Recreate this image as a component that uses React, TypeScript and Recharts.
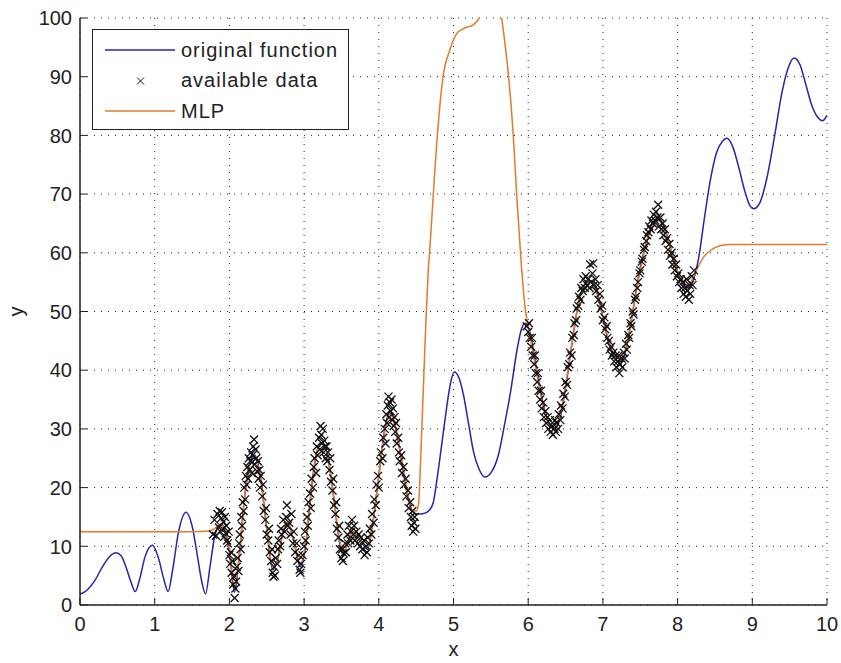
import React from 'react';
import {
  ComposedChart,
  Line,
  Scatter,
  XAxis,
  YAxis,
  CartesianGrid,
  Legend,
} from 'recharts';

// original function
const origX = [
  0.0, 0.1, 0.2, 0.3, 0.4, 0.48, 0.55, 0.62, 0.68, 0.74, 0.8, 0.87, 0.97, 1.05, 1.12, 1.18, 1.24, 1.32,
  1.42, 1.5, 1.57, 1.63, 1.68, 1.74, 1.8, 1.88, 1.95, 2.0, 2.07, 2.13, 2.2, 2.28, 2.34, 2.42, 2.5, 2.58,
  2.64, 2.72, 2.78, 2.85, 2.95, 3.02, 3.1, 3.18, 3.24, 3.32, 3.4, 3.47, 3.52, 3.58, 3.65, 3.72, 3.78,
  3.85, 3.92, 4.0, 4.08, 4.15, 4.22, 4.3, 4.38, 4.45, 4.51, 4.6, 4.68, 4.73, 4.78, 4.82, 4.87, 4.91,
  4.96, 5.01, 5.07, 5.13, 5.2, 5.27, 5.34, 5.42, 5.5, 5.6, 5.68, 5.76, 5.85, 5.91, 5.96, 6.02, 6.1,
  6.18, 6.26, 6.34, 6.42, 6.5, 6.58, 6.66, 6.75, 6.84, 6.92, 7.0, 7.08, 7.16, 7.23, 7.3, 7.4, 7.5, 7.6,
  7.68, 7.75, 7.82, 7.9, 7.98, 8.06, 8.14, 8.2, 8.28, 8.36, 8.44, 8.52, 8.6, 8.66, 8.74, 8.82, 8.9,
  8.97, 9.02, 9.1, 9.2, 9.3, 9.4, 9.48, 9.56, 9.64, 9.72, 9.8, 9.88, 9.94, 10.0,
];
const origY = [
  1.8, 2.6, 4.2, 6.5, 8.3, 8.9, 8.4, 6.3, 4.0, 2.3, 4.5, 8.2, 10.2, 8.0, 4.5, 2.3, 6.0, 12.5,
  15.8, 13.5, 8.5, 4.0, 1.9, 6.5, 11.5, 13.8, 12.5, 9.0, 2.2, 8.0, 18.0, 24.5, 25.5, 21.5, 13.0, 6.0,
  7.5, 12.5, 13.8, 11.5, 6.5, 10.0, 20.0, 26.5, 27.5, 25.0, 18.0, 11.0, 8.5, 10.5, 12.5, 11.5, 10.5,
  9.5, 14.0, 22.0, 30.0, 33.0, 30.5, 25.0, 19.0, 16.0, 15.5, 15.6, 16.2, 17.5, 21.5, 25.2, 30.0, 33.8,
  37.8, 39.7, 38.8, 36.0, 31.0, 26.0, 23.2, 21.8, 22.5, 25.5, 30.5, 36.0, 43.4, 47.0, 48.0, 46.5, 41.0,
  35.5, 31.5, 30.0, 31.5, 37.0, 44.0, 50.5, 54.5, 55.3, 53.5, 49.0, 44.5, 42.0, 41.5, 43.0, 50.0, 57.5, 62.5,
  65.0, 65.8, 64.5, 61.0, 57.5, 55.0, 54.0, 55.0, 59.0, 66.0, 72.5, 77.0, 79.0, 79.5, 78.0, 74.5, 70.5,
  68.0, 67.5, 68.5, 73.0, 80.0, 87.5, 91.5, 93.2, 92.0, 88.5, 85.0, 83.0, 82.5, 83.4,
];

// MLP output
const mlpX = [
  0.0, 0.5, 1.0, 1.5, 1.72, 1.8, 1.88, 1.95, 2.0, 2.07, 2.13, 2.2, 2.28, 2.34, 2.42, 2.5, 2.58, 2.64,
  2.72, 2.78, 2.85, 2.95, 3.02, 3.1, 3.18, 3.24, 3.32, 3.4, 3.47, 3.52, 3.58, 3.65, 3.72, 3.78, 3.85,
  3.92, 4.0, 4.08, 4.15, 4.22, 4.3, 4.38, 4.45, 4.5, 4.53, 4.57, 4.62, 4.66, 4.69, 4.73, 4.79, 4.86,
  4.95, 5.04, 5.15, 5.26, 5.33, 5.4, 5.5, 5.58, 5.64, 5.69, 5.73, 5.8, 5.85, 5.91, 5.96, 6.0, 6.1, 6.18,
  6.26, 6.34, 6.42, 6.5, 6.58, 6.66, 6.75, 6.84, 6.92, 7.0, 7.08, 7.16, 7.23, 7.3, 7.4, 7.5, 7.6, 7.68,
  7.75, 7.82, 7.9, 7.98, 8.06, 8.14, 8.2, 8.27, 8.35, 8.45, 8.57, 8.7, 9.0, 9.5, 10.0,
];
const mlpY = [
  12.5, 12.5, 12.5, 12.5, 12.6, 13.0, 13.8, 12.8, 9.5, 3.0, 8.5, 18.0, 24.0, 25.0, 21.0, 13.0, 6.5, 7.5,
  12.5, 14.0, 11.5, 7.0, 10.5, 20.0, 26.5, 27.5, 25.0, 18.0, 11.5, 9.0, 10.5, 12.5, 11.5, 10.5, 10.0,
  14.0, 22.0, 29.5, 32.5, 30.5, 25.0, 19.0, 16.0, 16.0, 17.0, 28.0, 45.0, 56.5, 62.0, 70.0, 81.0, 90.0,
  94.5, 97.3, 98.3, 98.8, 99.7, 101.5, 103.0, 102.5, 100.3, 95.5, 91.0, 80.0, 69.0, 57.6, 50.5, 47.5, 40.5, 35.0,
  31.5, 30.5, 32.0, 37.5, 44.0, 50.5, 54.5, 55.0, 53.0, 49.0, 45.0, 42.5, 42.0, 43.5, 50.0, 57.0, 62.5, 65.0,
  65.5, 64.0, 61.0, 57.5, 55.5, 54.5, 55.5, 57.5, 59.3, 60.5, 61.2, 61.4, 61.4, 61.4, 61.4,
];

// available (noisy) samples
const sampleX = [
  1.78, 1.8, 1.82, 1.84, 1.86, 1.87, 1.88, 1.89, 1.9, 1.91, 1.92, 1.93, 1.94, 1.95, 1.96, 1.97, 1.98, 1.99,
  2.0, 2.01, 2.02, 2.03, 2.04, 2.05, 2.06, 2.07, 2.08, 2.09, 2.1, 2.11, 2.12, 2.13, 2.14, 2.15, 2.16, 2.17,
  2.18, 2.19, 2.2, 2.21, 2.22, 2.23, 2.24, 2.25, 2.26, 2.27, 2.28, 2.29, 2.3, 2.31, 2.32, 2.33, 2.34, 2.35,
  2.36, 2.37, 2.38, 2.39, 2.4, 2.41, 2.42, 2.44, 2.45, 2.46, 2.48, 2.49, 2.5, 2.52, 2.53, 2.54, 2.56, 2.57,
  2.58, 2.59, 2.6, 2.61, 2.62, 2.64, 2.65, 2.66, 2.68, 2.69, 2.7, 2.72, 2.74, 2.76, 2.77, 2.78, 2.8, 2.82,
  2.83, 2.85, 2.86, 2.88, 2.9, 2.91, 2.93, 2.94, 2.95, 2.96, 2.98, 3.0, 3.01, 3.02, 3.04, 3.05, 3.06, 3.08,
  3.09, 3.1, 3.12, 3.13, 3.14, 3.16, 3.17, 3.18, 3.2, 3.21, 3.22, 3.23, 3.24, 3.25, 3.26, 3.27, 3.28, 3.29,
  3.3, 3.31, 3.32, 3.34, 3.35, 3.36, 3.38, 3.39, 3.4, 3.42, 3.43, 3.44, 3.46, 3.47, 3.48, 3.5, 3.51, 3.52,
  3.53, 3.55, 3.56, 3.58, 3.59, 3.6, 3.62, 3.63, 3.64, 3.66, 3.67, 3.68, 3.7, 3.72, 3.73, 3.75, 3.76, 3.78,
  3.8, 3.81, 3.83, 3.84, 3.85, 3.87, 3.88, 3.9, 3.91, 3.93, 3.94, 3.96, 3.97, 3.99, 4.0, 4.02, 4.03, 4.05,
  4.06, 4.08, 4.09, 4.1, 4.11, 4.12, 4.13, 4.14, 4.15, 4.16, 4.17, 4.18, 4.19, 4.2, 4.21, 4.22, 4.23, 4.24,
  4.26, 4.27, 4.28, 4.3, 4.31, 4.33, 4.34, 4.36, 4.37, 4.39, 4.4, 4.42, 4.43, 4.44, 4.45, 4.46, 4.47, 4.48,
  4.49,
  5.98, 6.0, 6.01, 6.02, 6.04, 6.05, 6.06, 6.08, 6.09, 6.1, 6.12, 6.13, 6.14, 6.16, 6.17, 6.18, 6.2, 6.21,
  6.23, 6.24, 6.26, 6.27, 6.29, 6.3, 6.32, 6.33, 6.35, 6.36, 6.37, 6.38, 6.4, 6.41, 6.43, 6.44, 6.46, 6.47,
  6.49, 6.5, 6.52, 6.53, 6.55, 6.56, 6.58, 6.59, 6.61, 6.62, 6.64, 6.65, 6.67, 6.68, 6.7, 6.71, 6.73, 6.74,
  6.76, 6.77, 6.79, 6.8, 6.82, 6.83, 6.84, 6.86, 6.87, 6.88, 6.9, 6.91, 6.93, 6.94, 6.96, 6.97, 6.99, 7.0,
  7.02, 7.03, 7.05, 7.06, 7.08, 7.09, 7.11, 7.12, 7.14, 7.15, 7.17, 7.18, 7.2, 7.21, 7.22, 7.23, 7.25, 7.26,
  7.28, 7.29, 7.31, 7.32, 7.34, 7.35, 7.37, 7.38, 7.4, 7.41, 7.43, 7.44, 7.46, 7.47, 7.49, 7.5, 7.52, 7.53,
  7.55, 7.56, 7.58, 7.59, 7.61, 7.62, 7.64, 7.65, 7.67, 7.68, 7.7, 7.71, 7.73, 7.74, 7.75, 7.77, 7.78, 7.8,
  7.81, 7.83, 7.84, 7.86, 7.87, 7.89, 7.9, 7.92, 7.93, 7.95, 7.96, 7.98, 7.99, 8.01, 8.02, 8.04, 8.05, 8.07,
  8.08, 8.1, 8.11, 8.12, 8.13, 8.15, 8.16, 8.17, 8.19, 8.2, 8.22,
];
const sampleY = [
  12.0, 14.5, 11.8, 15.5, 13.2, 16.0, 12.5, 14.8, 15.8, 13.0, 14.2, 11.6, 15.0, 12.2, 13.5, 11.0, 10.5, 12.5,
  8.5, 7.0, 9.0, 5.5, 7.5, 3.5, 4.8, 1.2, 2.8, 4.0, 6.5, 8.0, 5.8, 10.5, 12.0, 9.5, 15.0, 13.5,
  17.5, 16.0, 20.0, 18.0, 22.0, 20.5, 23.5, 21.5, 25.0, 23.0, 24.5, 26.0, 22.5, 25.5, 27.0, 28.2, 24.0, 26.5,
  25.0, 22.8, 24.5, 21.5, 23.0, 20.0, 22.0, 18.5, 20.5, 16.0, 14.5, 16.5, 12.0, 11.0, 13.0, 9.0, 7.5, 9.5,
  5.5, 4.8, 6.5, 5.0, 8.0, 7.0, 9.5, 11.0, 10.0, 13.0, 12.0, 14.5, 12.5, 15.0, 17.0, 13.5, 14.0, 12.0,
  15.5, 10.5, 12.5, 9.0, 10.5, 7.5, 8.5, 6.0, 5.5, 7.0, 8.5, 10.0, 12.5, 11.0, 15.0, 13.5, 17.5, 19.0,
  16.5, 21.5, 20.0, 23.5, 25.0, 22.5, 27.0, 25.5, 28.5, 26.5, 30.5, 29.0, 27.5, 30.0, 26.0, 28.0, 27.0, 25.0,
  27.0, 24.5, 26.0, 23.0, 25.0, 21.0, 19.5, 21.5, 17.0, 15.5, 17.5, 13.0, 11.5, 13.5, 9.5, 8.0, 9.5, 7.5,
  8.8, 10.5, 9.0, 12.0, 10.5, 13.5, 11.0, 12.5, 14.5, 12.0, 13.5, 11.0, 12.5, 10.5, 12.0, 10.0, 11.5, 9.5,
  11.0, 8.5, 10.0, 9.0, 11.5, 10.5, 13.0, 12.0, 15.5, 14.0, 18.0, 17.0, 20.5, 22.0, 20.0, 24.5, 26.0, 25.0,
  28.5, 30.0, 27.5, 32.5, 31.0, 34.0, 35.5, 32.0, 34.5, 33.0, 35.0, 31.5, 33.5, 30.5, 32.0, 29.5, 31.0, 27.5,
  28.5, 26.0, 24.5, 25.5, 22.5, 23.5, 20.5, 21.5, 18.5, 19.5, 16.5, 17.5, 15.0, 13.5, 16.0, 12.5, 14.0, 15.0,
  13.0,
  47.5, 46.5, 48.0, 45.5, 44.0, 45.5, 42.5, 41.0, 42.5, 39.5, 38.0, 39.5, 36.5, 35.0, 36.5, 33.5, 34.5, 32.0,
  33.0, 31.0, 32.0, 30.0, 31.5, 29.5, 30.5, 29.0, 30.0, 31.5, 29.5, 31.0, 30.0, 32.5, 31.5, 34.0, 33.5, 36.0,
  35.5, 38.0, 37.5, 40.5, 41.0, 43.0, 42.5, 45.5, 46.0, 48.0, 48.5, 50.5, 51.0, 52.5, 52.0, 54.0, 53.5, 55.5,
  54.0, 56.0, 54.5, 55.5, 54.0, 58.0, 55.0, 56.5, 58.2, 54.5, 55.5, 53.5, 54.5, 52.0, 53.0, 50.5, 51.0, 48.5,
  49.0, 47.0, 47.5, 45.5, 45.0, 43.5, 44.0, 42.5, 43.0, 41.5, 42.5, 40.5, 41.5, 42.5, 39.5, 41.0, 42.0, 40.5,
  43.0, 42.0, 44.5, 43.5, 46.0, 45.5, 48.0, 47.5, 50.0, 49.5, 52.0, 52.5, 54.0, 55.0, 56.5, 57.0, 58.5, 59.0,
  60.5, 61.0, 62.0, 63.0, 63.5, 64.5, 64.0, 65.5, 65.0, 66.5, 65.5, 67.0, 66.0, 68.2, 64.5, 66.0, 64.0, 65.0,
  63.0, 64.0, 62.0, 62.5, 60.5, 61.5, 59.5, 60.0, 58.0, 59.0, 57.0, 58.0, 56.0, 56.5, 55.0, 55.5, 54.0, 55.0,
  53.0, 54.0, 52.5, 55.5, 53.5, 52.0, 54.5, 53.0, 56.0, 54.5, 57.0,
];

const xTicks = [0, 1, 2, 3, 4, 5, 6, 7, 8, 9, 10];
const yTicks = [0, 10, 20, 30, 40, 50, 60, 70, 80, 90, 100];

const origData = origX.map((x, i) => ({ x, y: origY[i] }));
const mlpData = mlpX.map((x, i) => ({ x, y: mlpY[i] }));
const sampleData = sampleX.map((x, i) => ({ x, y: sampleY[i] }));

const BLUE = '#2626a8';
const ORANGE = '#e47a2c';
const FONT = '"Liberation Sans", Arial, sans-serif';
const TICK_LEN = 7;

const XMark = (props: any) => {
  const { cx, cy } = props;
  const r = 4;
  return (
    <path
      d={`M${cx - r},${cy - r}L${cx + r},${cy + r}M${cx - r},${cy + r}L${cx + r},${cy - r}`}
      stroke="#111"
      strokeWidth={1.3}
      fill="none"
    />
  );
};

const BottomTick = (props: any) => {
  const { x, y, payload } = props;
  const base = y - 12;
  return (
    <g>
      <line x1={x} x2={x} y1={base} y2={base - TICK_LEN} stroke="#222" />
      <text x={x} y={y} dy="0.72em" textAnchor="middle" fontSize={20} fill="#222" fontFamily={FONT}>
        {payload.value}
      </text>
    </g>
  );
};

const LeftTick = (props: any) => {
  const { x, y, payload } = props;
  const base = x + 8;
  return (
    <g>
      <line x1={base} x2={base + TICK_LEN} y1={y} y2={y} stroke="#222" />
      <text x={x} y={y} dy="0.36em" textAnchor="end" fontSize={20} fill="#222" fontFamily={FONT}>
        {payload.value}
      </text>
    </g>
  );
};

const TopTick = (props: any) => {
  const { x, y } = props;
  return <line x1={x} x2={x} y1={y} y2={y + TICK_LEN} stroke="#222" />;
};

const RightTick = (props: any) => {
  const { x, y } = props;
  return <line x1={x - TICK_LEN} x2={x} y1={y} y2={y} stroke="#222" />;
};

const legendRows = [
  { name: 'original function', kind: 'line', color: BLUE },
  { name: 'available data', kind: 'mark', color: '#111' },
  { name: 'MLP', kind: 'line', color: ORANGE },
];

const LegendBox = () => (
  <div
    style={{
      border: '1.5px solid #222',
      background: '#fff',
      width: 257,
      height: 101,
      boxSizing: 'border-box',
      padding: '5px 0 0 0',
      fontFamily: FONT,
      fontSize: 20,
      color: '#222',
    }}
  >
    {legendRows.map((r) => (
      <div key={r.name} style={{ display: 'flex', alignItems: 'center', height: 30.5 }}>
        <svg width={88} height={20} style={{ flex: 'none' }}>
          {r.kind === 'line' ? (
            <line x1={12} x2={82} y1={10} y2={10} stroke={r.color} strokeWidth={1.5} />
          ) : (
            <path d="M44,6.5L51,13.5M44,13.5L51,6.5" stroke={r.color} strokeWidth={1} />
          )}
        </svg>
        <span style={{ letterSpacing: 1, whiteSpace: 'nowrap' }}>{r.name}</span>
      </div>
    ))}
  </div>
);

export default function App() {
  return (
    <div style={{ position: 'absolute', left: 0, top: 0, width: 841, height: 663, background: '#fff' }}>
      <ComposedChart
        width={841}
        height={663}
        margin={{ top: 18, right: 14, bottom: 18, left: 20 }}
        style={{ fontFamily: FONT }}
      >
        <CartesianGrid stroke="#222" strokeDasharray="1 6" />
        <XAxis
          type="number"
          dataKey="x"
          domain={[0, 10]}
          ticks={xTicks}
          allowDataOverflow
          height={40}
          tickSize={0}
          tickMargin={12}
          tickLine={false}
          tick={<BottomTick />}
          stroke="#222"
          strokeWidth={1.5}
          label={{ value: 'x', position: 'bottom', offset: -3, fontSize: 20, fill: '#222' }}
        />
        <XAxis
          xAxisId="top"
          orientation="top"
          type="number"
          dataKey="x"
          domain={[0, 10]}
          ticks={xTicks}
          allowDataOverflow
          height={0}
          tickSize={0}
          tickMargin={0}
          tickLine={false}
          tick={<TopTick />}
          stroke="#222"
          strokeWidth={1.5}
        />
        <YAxis
          type="number"
          domain={[0, 100]}
          ticks={yTicks}
          allowDataOverflow
          width={60}
          tickSize={0}
          tickMargin={8}
          tickLine={false}
          tick={<LeftTick />}
          stroke="#222"
          strokeWidth={1.5}
          label={{
            content: (p: any) => {
              const vb = p.viewBox;
              const cy = vb.y + vb.height / 2;
              return (
                <text x={17} y={cy} transform={`rotate(-90 17 ${cy})`} textAnchor="middle" dy="0.3em" fontSize={20} fill="#222" fontFamily={FONT}>
                  y
                </text>
              );
            },
          }}
        />
        <YAxis
          yAxisId="right"
          orientation="right"
          type="number"
          domain={[0, 100]}
          ticks={yTicks}
          allowDataOverflow
          width={0}
          tickSize={0}
          tickMargin={0}
          tickLine={false}
          tick={<RightTick />}
          stroke="#222"
          strokeWidth={1.5}
        />
        <Legend
          layout="horizontal"
          verticalAlign="middle"
          align="center"
          content={<LegendBox />}
          wrapperStyle={{ left: 92, top: 29, width: 257, height: 101 }}
        />
        <Line
          data={origData}
          dataKey="y"
          name="original function"
          type="monotone"
          stroke={BLUE}
          strokeWidth={1.5}
          dot={false}
          activeDot={false}
          isAnimationActive={false}
        />
        <Scatter
          data={sampleData}
          dataKey="y"
          name="available data"
          shape={<XMark />}
          isAnimationActive={false}
        />
        <Line
          data={mlpData}
          dataKey="y"
          name="MLP"
          type="monotone"
          stroke={ORANGE}
          strokeWidth={1.5}
          dot={false}
          activeDot={false}
          isAnimationActive={false}
        />
      </ComposedChart>
    </div>
  );
}
